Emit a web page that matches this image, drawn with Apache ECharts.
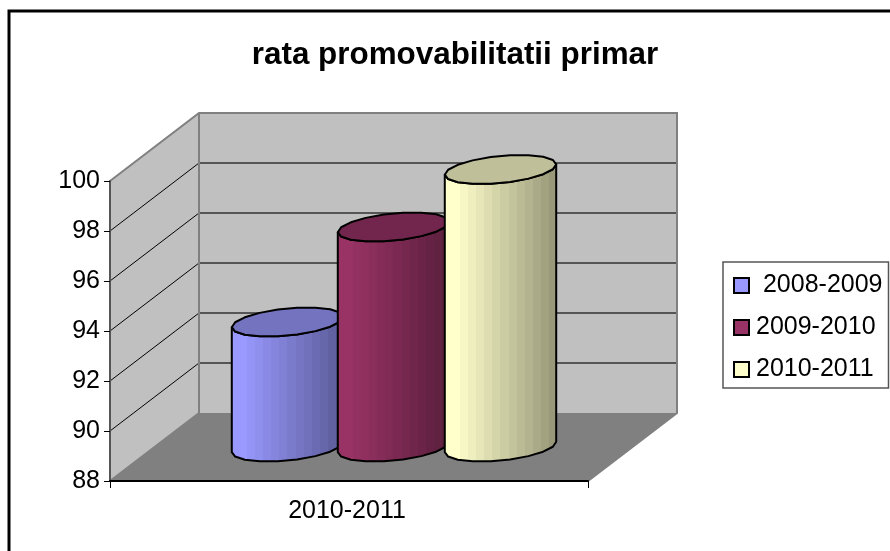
<!DOCTYPE html>
<html>
<head>
<meta charset="utf-8">
<style>
  html, body { margin: 0; padding: 0; background: #fff; }
  #chart { width: 890px; height: 551px; }
</style>
<script src="https://cdn.jsdelivr.net/npm/echarts@6/dist/echarts.min.js"></script>
</head>
<body>
<div id="chart"></div>
<script>
const titleText = 'rata promovabilitatii primar'
const categories = ['2010-2011']
const seriesNames = [' 2008-2009', '2009-2010', '2010-2011']
const seriesValues = [93, 96.8, 99.1]
const yTicks = [88, 90, 92, 94, 96, 98, 100]

const bodyLight = ['#9999ff', '#993366', '#ffffcc']
const bodyDark = ['#5c5c99', '#5c1f3d', '#99997a']
const topColors = ['#7373bf', '#73264d', '#bfbf99']

// 3d look: depth of the box and cylinder shape, in pixels
const depthX = 89
const depthY = -68
const cylOffset = [-106, 0, 107]
const cylA = 52
const cylB = 20
const cylC = 14.5
const facets = 9

const font = '"Liberation Sans", Arial, sans-serif'
const chart = echarts.init(document.getElementById('chart'))

function ringPoints(cx, cy, from, to, n) {
    var pts = []
    for (var i = 0; i <= n; i++) {
        var t = from + (to - from) * i / n
        pts.push([cx + cylA * Math.cos(t) + cylB * Math.sin(t), cy - cylC * Math.sin(t)])
    }
    return pts
}

function bandFill(idx) {
    // faceted shading, so hard stops instead of a smooth ramp
    var a = echarts.color.parse(bodyLight[idx])
    var b = echarts.color.parse(bodyDark[idx])
    var bands = 14
    var stops = []
    for (var i = 0; i < bands; i++) {
        var k = i < 2 ? 0 : (i - 1) / (bands - 2)
        var c = 'rgb(' + [0, 1, 2].map(j => Math.round(a[j] + (b[j] - a[j]) * k)).join(',') + ')'
        stops.push({ offset: i / bands, color: c })
        stops.push({ offset: (i + 1) / bands, color: c })
    }
    return new echarts.graphic.LinearGradient(0, 0, 1, 0, stops)
}

function renderBox(params, api) {
    var cs = params.coordSys
    var x0 = cs.x, x1 = cs.x + cs.width
    var yb = cs.y + cs.height, yt = cs.y
    var wall = { fill: '#c0c0c0', stroke: null }
    return {
        type: 'group',
        children: [
            { type: 'polygon', shape: { points: [[x0 + depthX, yt + depthY], [x1 + depthX, yt + depthY], [x1 + depthX, yb + depthY], [x0 + depthX, yb + depthY]] }, style: wall },
            { type: 'polygon', shape: { points: [[x0, yt], [x0 + depthX, yt + depthY], [x0 + depthX, yb + depthY], [x0, yb]] }, style: wall },
            { type: 'polygon', shape: { points: [[x0, yb], [x0 + depthX, yb + depthY], [x1 + depthX, yb + depthY], [x1, yb]] }, style: { fill: '#808080', stroke: null } }
        ]
    }
}

function renderEdges(params, api) {
    var cs = params.coordSys
    var x0 = cs.x, x1 = cs.x + cs.width
    var yb = cs.y + cs.height, yt = cs.y
    var edge = { stroke: '#808080', lineWidth: 2, fill: null }
    return {
        type: 'group',
        children: [
            { type: 'polyline', shape: { points: [[x0, yt], [x0 + depthX, yt + depthY], [x1 + depthX, yt + depthY], [x1 + depthX, yb + depthY], [x1, yb]] }, style: edge },
            { type: 'polyline', shape: { points: [[x0 + depthX, yt + depthY], [x0 + depthX, yb + depthY], [x0, yb]] }, style: edge }
        ]
    }
}

function renderGridline(params, api) {
    var cs = params.coordSys
    var y = api.coord([0, api.value(0)])[1]
    var x0 = cs.x, x1 = cs.x + cs.width
    return {
        type: 'group',
        children: [
            { type: 'line', shape: { x1: x0, y1: y, x2: x0 + depthX, y2: y + depthY }, style: { stroke: '#000', lineWidth: 1 } },
            { type: 'line', shape: { x1: x0 + depthX, y1: y + depthY, x2: x1 + depthX, y2: y + depthY }, style: { stroke: '#555', lineWidth: 2 } }
        ]
    }
}

function makeCylinderRender(idx) {
    return function (params, api) {
        var top = api.coord([api.value(0), api.value(1)])
        var base = api.coord([api.value(0), yTicks[0]])
        var cx = top[0] + depthX / 2 + cylOffset[idx]
        var cyTop = top[1] + depthY / 2
        var cyBase = base[1] + depthY / 2
        var tilt = Math.atan2(cylB, cylA)
        // front half of the ring, from the left silhouette round to the right one
        var lower = ringPoints(cx, cyBase, tilt + Math.PI, tilt + 2 * Math.PI, facets)
        var upper = ringPoints(cx, cyTop, tilt + Math.PI, tilt + 2 * Math.PI, facets).reverse()
        var outline = { stroke: '#000', lineWidth: 2, lineJoin: 'round' }
        return {
            type: 'group',
            children: [
                { type: 'polygon', shape: { points: lower.concat(upper) }, style: Object.assign({ fill: bandFill(idx) }, outline) },
                { type: 'polygon', shape: { points: ringPoints(cx, cyTop, tilt, tilt + 2 * Math.PI, facets * 2) }, style: Object.assign({ fill: topColors[idx] }, outline) }
            ]
        }
    }
}

var series = [
    { type: 'custom', silent: true, z: 1, renderItem: renderBox, data: [[0]], clip: false },
    { type: 'custom', silent: true, z: 2, renderItem: renderGridline, data: yTicks.slice(1, -1).map(v => [v]), clip: false, encode: { y: 0 } },
    { type: 'custom', silent: true, z: 2, renderItem: renderEdges, data: [[0]], clip: false }
]
seriesNames.forEach(function (name, i) {
    series.push({
        name: name,
        type: 'custom',
        z: 3 + i,
        clip: false,
        silent: true,
        itemStyle: { color: bodyLight[i] },
        renderItem: makeCylinderRender(i),
        encode: { x: 0, y: 1 },
        data: [[0, seriesValues[i]]]
    })
})

chart.setOption({
    animation: false,
    backgroundColor: '#fff',
    title: {
        text: titleText,
        left: 450,
        top: 35,
        textAlign: 'center',
        textStyle: { fontFamily: font, fontSize: 31.4, fontWeight: 'bold', color: '#000' }
    },
    legend: {
        left: 723,
        top: 262,
        orient: 'vertical',
        padding: [11, 6, 6, 10],
        itemGap: 17,
        itemWidth: 15,
        itemHeight: 15,
        borderColor: '#555',
        borderWidth: 1.5,
        selectedMode: false,
        textStyle: { fontFamily: font, fontSize: 25, color: '#000', padding: [0, 0, 6, 2] },
        data: seriesNames.map((n, i) => ({
            name: n,
            icon: 'rect',
            itemStyle: { color: bodyLight[i], borderColor: '#000', borderWidth: 2 }
        }))
    },
    grid: { left: 110, top: 181, width: 478, height: 300, containLabel: false },
    xAxis: {
        type: 'category',
        data: categories,
        axisLine: { lineStyle: { color: '#000', width: 2 } },
        axisTick: { show: true, length: 7, lineStyle: { color: '#000', width: 1 } },
        axisLabel: { fontFamily: font, fontSize: 25, color: '#000', margin: 18, padding: [0, 4, 0, 0] },
        z: 20
    },
    yAxis: {
        type: 'value',
        min: 88,
        max: 100,
        interval: 2,
        axisLine: { show: true, lineStyle: { color: '#555', width: 2 } },
        axisTick: { show: true, length: 6, lineStyle: { color: '#000', width: 1 } },
        axisLabel: { fontFamily: font, fontSize: 25, color: '#000', margin: 10 },
        splitLine: { show: false },
        z: 20
    },
    graphic: [
        { type: 'polyline', silent: true, z: 100, shape: { points: [[9, 560], [9, 11], [900, 11]] }, style: { stroke: '#000', lineWidth: 3, fill: null } }
    ],
    series: series
})
</script>
</body>
</html>
